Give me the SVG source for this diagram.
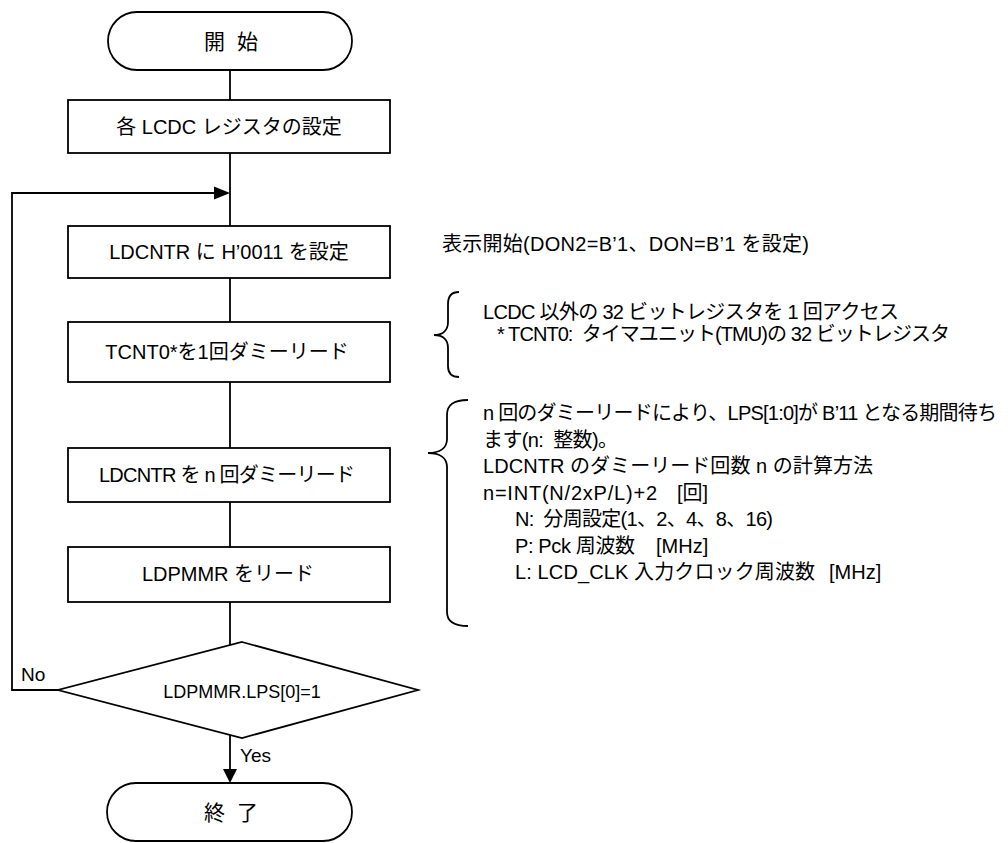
<svg xmlns="http://www.w3.org/2000/svg" width="1008" height="843" viewBox="0 0 1008 843">
<defs>
<style>
.s{fill:#fff;stroke:#000;stroke-width:1.8}
.c{fill:none;stroke:#000;stroke-width:1.8}
text{font-family:"Liberation Sans","Noto Sans CJK JP",sans-serif;fill:#000}
.b{font-size:20px;text-anchor:middle}
.t{font-size:21px;text-anchor:middle;word-spacing:6px}
.n{font-size:20px}
</style>
</defs>
<rect width="1008" height="843" fill="#fff"/>
<g id="connectors">
<line class="c" x1="230" y1="70" x2="230" y2="100"/>
<line class="c" x1="230" y1="153" x2="230" y2="226"/>
<line class="c" x1="230" y1="278" x2="230" y2="322"/>
<line class="c" x1="230" y1="382" x2="230" y2="448"/>
<line class="c" x1="230" y1="502" x2="230" y2="547"/>
<line class="c" x1="230" y1="602" x2="230" y2="646"/>
<polyline class="c" points="58,690 12,690 12,193 214,193"/>
<path d="M214,186.5 L230,193 L214,199.5 Z" fill="#000"/>
<line class="c" x1="230" y1="734" x2="230" y2="769"/>
<path d="M223,769 L230,783 L237,769 Z" fill="#000"/>
</g>
<g id="start">
<rect class="s" x="108" y="12" width="244" height="58" rx="29"/>
<text class="t" x="231" y="49">開 始</text>
</g>
<g id="box1">
<rect class="s" x="68" y="100" width="322" height="53"/>
<text class="b" x="229" y="134">各 LCDC レジスタの設定</text>
</g>
<g id="box2">
<rect class="s" x="68" y="226" width="322" height="52"/>
<text class="b" x="229" y="259">LDCNTR に H’0011 を設定</text>
</g>
<g id="box3">
<rect class="s" x="68" y="322" width="322" height="60"/>
<text class="b" x="227" y="359">TCNT0*を1回ダミーリード</text>
</g>
<g id="box4">
<rect class="s" x="68" y="448" width="322" height="54"/>
<text class="b" x="227" y="482" textLength="256">LDCNTR を n 回ダミーリード</text>
</g>
<g id="box5">
<rect class="s" x="68" y="547" width="322" height="55"/>
<text class="b" x="228" y="581">LDPMMR をリード</text>
</g>
<g id="decision">
<polygon class="s" points="242,642 418,690 242,738 58,690"/>
<text x="242" y="698" font-size="18" text-anchor="middle">LDPMMR.LPS[0]=1</text>
<text x="21" y="681" font-size="19">No</text>
<text x="240" y="762" font-size="19">Yes</text>
</g>
<g id="end">
<rect class="s" x="107" y="783" width="245" height="58" rx="29"/>
<text class="t" x="231" y="820">終 了</text>
</g>
<g id="note1">
<text class="n" x="442" y="251" textLength="367">表示開始(DON2=B’1、DON=B’1 を設定)</text>
</g>
<g id="note2">
<path class="c" d="M459,292 C451,292 448,296 448,304 L448,322 C448,330 443,335 434,335 C443,335 448,340 448,348 L448,366 C448,373 451,377 459,377"/>
<text class="n" x="483" y="319" textLength="416">LCDC 以外の 32 ビットレジスタを 1 回アクセス</text>
<text class="n" x="497" y="341" textLength="453" xml:space="preserve">* TCNT0:  タイマユニット(TMU)の 32 ビットレジスタ</text>
</g>
<g id="note3">
<path class="c" d="M468,400 C453,400 447,405 447,415 L447,439 C447,448 440,453 428,453 C440,453 447,458 447,467 L447,612 C447,621 453,626 468,626"/>
<text class="n" x="483" y="420" textLength="514">n 回のダミーリードにより、LPS[1:0]が B’11 となる期間待ち</text>
<text class="n" x="483" y="447" textLength="135" xml:space="preserve">ます(n:  整数)。</text>
<text class="n" x="483" y="473" textLength="390">LDCNTR のダミーリード回数 n の計算方法</text>
<text class="n" x="483" y="500"><tspan textLength="174">n=INT(N/2xP/L)+2</tspan><tspan x="677">[回]</tspan></text>
<text class="n" x="515" y="526" textLength="258" xml:space="preserve">N:  分周設定(1、2、4、8、16)</text>
<text class="n" x="515" y="553"><tspan textLength="120">P: Pck 周波数</tspan><tspan x="656">[MHz]</tspan></text>
<text class="n" x="515" y="579"><tspan textLength="300">L: LCD_CLK 入力クロック周波数</tspan><tspan x="829">[MHz]</tspan></text>
</g>
</svg>
